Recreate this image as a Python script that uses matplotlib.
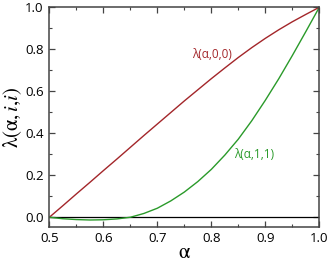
import numpy as np
import matplotlib
matplotlib.use("Agg")
import matplotlib.pyplot as plt
from matplotlib.ticker import MultipleLocator

# values
alpha = [0.500, 0.525, 0.550, 0.575, 0.600, 0.625, 0.650, 0.675, 0.700, 0.725, 0.750,
         0.775, 0.800, 0.825, 0.850, 0.875, 0.900, 0.925, 0.950, 0.975, 1.000]
lam00 = [0.000, 0.055, 0.111, 0.166, 0.222, 0.277, 0.333, 0.389, 0.444, 0.499, 0.554,
         0.607, 0.660, 0.711, 0.761, 0.808, 0.852, 0.893, 0.931, 0.966, 1.000]
lam11 = [0.000, -0.007, -0.011, -0.013, -0.012, -0.008, 0.000, 0.018, 0.043, 0.078, 0.120,
         0.170, 0.228, 0.296, 0.372, 0.460, 0.557, 0.660, 0.770, 0.884, 1.000]

red = '#a3262a'
green = '#2a9a2a'

plt.rcParams['font.family'] = ['Open Sans', 'DejaVu Sans']
plt.rcParams['mathtext.fontset'] = 'stix'

fig = plt.figure(figsize=(3.29, 2.65), dpi=100)
ax = fig.add_axes([0.150, 0.1445, 0.8205, 0.828])

ax.axhline(0, color='black', lw=0.9)
ax.plot(alpha, lam00, color=red, lw=1.0)
ax.plot(alpha, lam11, color=green, lw=1.0)

ax.text(0.802, 0.773, 'λ(α,0,0)', color=red, fontsize=8.5, ha='center', va='center')
ax.text(0.880, 0.300, 'λ(α,1,1)', color=green, fontsize=8.5, ha='center', va='center')

ax.set_xlim(0.5, 1.0)
ax.set_ylim(-0.045, 1.0)
ax.xaxis.set_major_locator(MultipleLocator(0.1))
ax.xaxis.set_minor_locator(MultipleLocator(0.05))
ax.yaxis.set_major_locator(MultipleLocator(0.2))
ax.yaxis.set_minor_locator(MultipleLocator(0.1))
ax.xaxis.set_major_formatter(plt.FormatStrFormatter('%.1f'))
ax.yaxis.set_major_formatter(plt.FormatStrFormatter('%.1f'))

ax.tick_params(which='both', direction='in', top=True, right=True, color='#444444')
ax.tick_params(which='major', length=4, width=0.9, labelsize=9.5, pad=4)
ax.tick_params(which='minor', length=2.2, width=0.8)
for s in ax.spines.values():
    s.set_linewidth(1.1)
    s.set_color('#444444')

ax.set_xlabel(r'$\mathrm{\alpha}$', fontsize=15, labelpad=-2)
ax.set_ylabel(r'$\mathrm{\lambda(\alpha,}i\mathrm{,}i\mathrm{)}$', fontsize=15, labelpad=1)

fig.savefig('out.png', dpi=100)
